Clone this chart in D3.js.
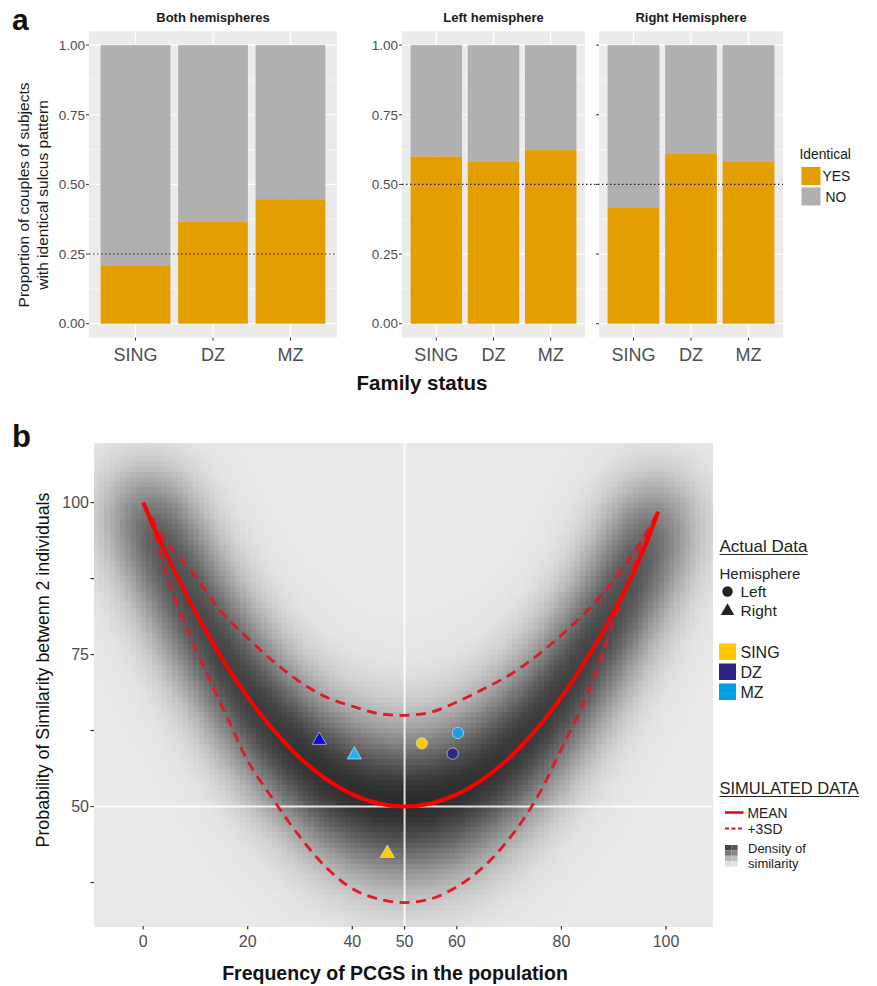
<!DOCTYPE html>
<html>
<head>
<meta charset="utf-8">
<script src="https://cdn.jsdelivr.net/npm/d3@7/dist/d3.min.js"></script>
<style>
  body { margin: 0; background: #fff; }
  svg { display: block; font-family: 'Liberation Sans', Arial, Helvetica, sans-serif; }
</style>
</head>
<body>
<svg id="chart" width="877" height="986"></svg>
<script>
// ---- panel a data ----
let statusCats = ['SING', 'DZ', 'MZ']
let bothYes = [0.21, 0.366, 0.447]
let leftYes = [0.60, 0.583, 0.623]
let rightYes = [0.418, 0.609, 0.583]
let chanceBoth = 0.25
let chanceSide = 0.5
let propTicks = [0, 0.25, 0.5, 0.75, 1]
let propMinor = [0.125, 0.375, 0.625, 0.875]

// ---- panel b data ----
let meanFreq = [0, 2.5, 5, 7.5, 10, 15, 20, 25, 30, 35, 40, 45, 50, 55, 60, 65, 70, 75, 80, 85, 90, 95, 98.5]
let meanSim = [100, 95.1, 90.5, 86.1, 82, 74.5, 68, 62.5, 58, 54.5, 52, 50.5, 50, 50.5, 52, 54.5, 58, 62.5, 68, 74.5, 82, 90.8, 98.5]
let upperFreq = [0, 2, 5, 9, 15, 20, 25, 30, 35, 40, 45, 50, 55, 60, 65, 70, 75, 80, 85, 90, 95, 98.5]
let upperSim = [100, 97, 93, 89, 82, 77.7, 73.8, 70.5, 68, 66.5, 65.3, 65, 65.5, 67.2, 69.3, 71.6, 74.6, 78.2, 82.3, 87.2, 93.3, 98.5]
let lowerFreq = [0, 2, 4.5, 8, 12.5, 16.6, 20, 25, 30, 35, 40, 45, 50, 55, 60, 65, 70, 75, 80, 85, 90, 95, 98.5]
let lowerSim = [100, 95.5, 88, 80, 71.3, 63.7, 57.5, 51, 45, 40, 36.5, 34.8, 34.2, 34.8, 36.8, 40, 44.7, 51, 59.5, 68.5, 80.5, 92, 98.5]

let pointFreq = [53.3, 60.2, 59.2, 33.7, 40.4, 46.7]
let pointSim = [60.4, 62.1, 58.7, 60.9, 58.5, 42.3]
let pointHemi = ['Left', 'Left', 'Left', 'Right', 'Right', 'Right']
let pointStatus = ['SING', 'MZ', 'DZ', 'DZ', 'MZ', 'SING']

let freqTicks = [0, 20, 40, 50, 60, 80, 100]
let simTicks = [50, 75, 100]
let simMinorTicks = [37.5, 62.5, 87.5]

let svg = d3.select('#chart')
let yesColor = '#E49E00'
let noColor = '#B0B0B1'
let tickGrey = '#4d4d4d'

// ================= panel a =================
let yA = d3.scaleLinear().domain([-0.05, 1.05]).range([337.6, 31.2])

let facets = [
  { title: 'Both hemispheres', x0: 89, x1: 337, yes: bothYes, labels: true },
  { title: 'Left hemisphere', x0: 402, x1: 585, yes: leftYes, labels: true },
  { title: 'Right Hemisphere', x0: 599, x1: 783, yes: rightYes, labels: false }
]

facets.forEach((f) => {
  let xA = d3.scaleBand().domain(statusCats).range([f.x0, f.x1]).paddingInner(0.1).paddingOuter(0.15)
  let g = svg.append('g')
  g.append('rect').attr('x', f.x0).attr('y', yA(1.05)).attr('width', f.x1 - f.x0)
    .attr('height', yA(-0.05) - yA(1.05)).attr('fill', '#ebebeb')
  g.selectAll('.minor').data(propMinor).enter().append('line')
    .attr('x1', f.x0).attr('x2', f.x1).attr('y1', d => yA(d)).attr('y2', d => yA(d))
    .attr('stroke', '#fff').attr('stroke-width', 0.6)
  g.selectAll('.major').data(propTicks).enter().append('line')
    .attr('x1', f.x0).attr('x2', f.x1).attr('y1', d => yA(d)).attr('y2', d => yA(d))
    .attr('stroke', '#fff').attr('stroke-width', 1.2)
  g.selectAll('.vgrid').data(statusCats).enter().append('line')
    .attr('x1', d => xA(d) + xA.bandwidth() / 2).attr('x2', d => xA(d) + xA.bandwidth() / 2)
    .attr('y1', yA(1.05)).attr('y2', yA(-0.05))
    .attr('stroke', '#fff').attr('stroke-width', 1.2)

  // stacked bars: YES at the bottom, NO on top
  g.selectAll('.no').data(statusCats).enter().append('rect')
    .attr('x', d => xA(d)).attr('width', xA.bandwidth())
    .attr('y', yA(1)).attr('height', (d, i) => yA(f.yes[i]) - yA(1))
    .attr('fill', noColor)
  g.selectAll('.yes').data(statusCats).enter().append('rect')
    .attr('x', d => xA(d)).attr('width', xA.bandwidth())
    .attr('y', (d, i) => yA(f.yes[i])).attr('height', (d, i) => yA(0) - yA(f.yes[i]))
    .attr('fill', yesColor)

  // y ticks
  g.selectAll('.ytick').data(propTicks).enter().append('line')
    .attr('x1', f.x0 - 3).attr('x2', f.x0).attr('y1', d => yA(d)).attr('y2', d => yA(d))
    .attr('stroke', '#333').attr('stroke-width', 1)
  if (f.labels) {
    g.selectAll('.ylab').data(propTicks).enter().append('text')
      .attr('x', f.x0 - 4).attr('y', d => yA(d) + 4.8)
      .attr('text-anchor', 'end').attr('font-size', 13.5).attr('fill', tickGrey)
      .text(d => d3.format('.2f')(d))
  }
  // x ticks
  g.selectAll('.xtick').data(statusCats).enter().append('line')
    .attr('x1', d => xA(d) + xA.bandwidth() / 2).attr('x2', d => xA(d) + xA.bandwidth() / 2)
    .attr('y1', yA(-0.05)).attr('y2', yA(-0.05) + 3)
    .attr('stroke', '#333').attr('stroke-width', 1)
  g.selectAll('.xlab').data(statusCats).enter().append('text')
    .attr('x', d => xA(d) + xA.bandwidth() / 2).attr('y', 361)
    .attr('text-anchor', 'middle').attr('font-size', 18).attr('fill', tickGrey)
    .text(d => d)
  g.append('text').attr('x', (f.x0 + f.x1) / 2).attr('y', 22)
    .attr('text-anchor', 'middle').attr('font-size', 13).attr('font-weight', 'bold')
    .attr('fill', '#1a1a1a').text(f.title)
})

// chance lines
svg.append('line').attr('x1', 89).attr('x2', 337).attr('y1', yA(chanceBoth)).attr('y2', yA(chanceBoth))
  .attr('stroke', '#222').attr('stroke-width', 1.1).attr('stroke-dasharray', '1.5,2.5')
svg.append('line').attr('x1', 402).attr('x2', 783).attr('y1', yA(chanceSide)).attr('y2', yA(chanceSide))
  .attr('stroke', '#222').attr('stroke-width', 1.1).attr('stroke-dasharray', '1.5,2.5')

// y title a
let yTitleA = svg.append('text').attr('transform', 'translate(0,195) rotate(-90)')
  .attr('text-anchor', 'middle').attr('font-size', 15.5).attr('fill', '#1a1a1a')
yTitleA.append('tspan').attr('x', 0).attr('y', 29).text('Proportion of couples of subjects')
yTitleA.append('tspan').attr('x', 0).attr('y', 47.5).text('with identical sulcus pattern')

svg.append('text').attr('x', 422).attr('y', 390).attr('text-anchor', 'middle')
  .attr('font-size', 20.5).attr('font-weight', 'bold').attr('fill', '#111').text('Family status')

// legend a
svg.append('text').attr('x', 799.5).attr('y', 159).attr('font-size', 13.8).attr('fill', '#1a1a1a').text('Identical')
let legA = [{ k: 'YES', c: yesColor, y: 167 }, { k: 'NO', c: noColor, y: 187.5 }]
legA.forEach((d) => {
  svg.append('rect').attr('x', 801.5).attr('y', d.y).attr('width', 19).attr('height', 18).attr('fill', d.c)
  svg.append('text').attr('x', d.k === 'YES' ? 822.5 : 825.5).attr('y', d.y + 14)
    .attr('font-size', 13.8).attr('fill', '#1a1a1a').text(d.k)
})

svg.append('text').attr('x', 12).attr('y', 30).attr('font-size', 30).attr('font-weight', 'bold').attr('fill', '#111').text('a')

// ================= panel b =================
let xB = d3.scaleLinear().domain([-9.4, 108.8]).range([94, 712])
let yB = d3.scaleLinear().domain([30.35, 109.8]).range([926, 443])

let meanAt = d3.scaleLinear().domain(meanFreq).range(meanSim).clamp(true)
let upperAt = d3.scaleLinear().domain(upperFreq).range(upperSim).clamp(true)
let lowerAt = d3.scaleLinear().domain(lowerFreq).range(lowerSim).clamp(true)

// density of similarity: smoothed from the mean / +-3SD envelope above
let bandX = 5
let bandY = 4.6
let sims = d3.range(0, 98.51, 0.5).map(s => {
  let sd = Math.max((upperAt(s) - lowerAt(s)) / 6, 0.4)
  return { s: s, c: meanAt(s), se: Math.sqrt(sd * sd + bandY * bandY) }
})
let cellW = 1.0
let cellH = 0.86
let cells = []
for (let gx = -9.4; gx < 108.8; gx += cellW) {
  for (let gy = 30.35; gy < 109.8; gy += cellH) {
    let cx = gx + cellW / 2
    let cy = gy + cellH / 2
    let v = 0
    sims.forEach(p => {
      let dx = (cx - p.s) / bandX
      if (Math.abs(dx) > 4) return
      let dy = (cy - p.c) / p.se
      v += Math.exp(-0.5 * dx * dx) * Math.exp(-0.5 * dy * dy) / p.se
    })
    cells.push({ x: gx, y: gy, v: v })
  }
}
let vMax = d3.max(cells, d => d.v)
let shade = d3.scaleLinear().domain([0, 1]).range(['#e9e9e9', '#2c2c2c']).interpolate(d3.interpolateRgb)

let gB = svg.append('g')
gB.append('g').attr('shape-rendering', 'crispEdges')
  .selectAll('rect').data(cells).enter().append('rect')
  .attr('x', d => xB(d.x))
  .attr('y', d => yB(Math.min(d.y + cellH, 109.8)))
  .attr('width', d => Math.min(xB(d.x + cellW), 712) - xB(d.x) + 0.6)
  .attr('height', d => yB(d.y) - yB(Math.min(d.y + cellH, 109.8)) + 0.6)
  .attr('fill', d => shade(Math.pow(d.v / vMax, 0.6)))

// white reference lines at 50
gB.append('line').attr('x1', xB(50)).attr('x2', xB(50)).attr('y1', 443).attr('y2', 926)
  .attr('stroke', '#fff').attr('stroke-width', 2).attr('stroke-opacity', 0.85)
gB.append('line').attr('x1', 94).attr('x2', 712).attr('y1', yB(50)).attr('y2', yB(50))
  .attr('stroke', '#fff').attr('stroke-width', 2).attr('stroke-opacity', 0.85)

let curveLine = d3.line().x(d => xB(d[0])).y(d => yB(d[1])).curve(d3.curveCatmullRom.alpha(0.5))
gB.append('path').attr('d', curveLine(d3.zip(upperFreq, upperSim)))
  .attr('fill', 'none').attr('stroke', '#dc1a28').attr('stroke-width', 2.8).attr('stroke-dasharray', '10,6.5')
gB.append('path').attr('d', curveLine(d3.zip(lowerFreq, lowerSim)))
  .attr('fill', 'none').attr('stroke', '#dc1a28').attr('stroke-width', 2.8).attr('stroke-dasharray', '10,6.5')
gB.append('path').attr('d', curveLine(d3.zip(meanFreq, meanSim)))
  .attr('fill', 'none').attr('stroke', '#ff0000').attr('stroke-width', 4)

// actual data points
let leftColors = { SING: '#FFCC00', DZ: '#2E2A84', MZ: '#1BA0E2' }
let rightColors = { SING: '#FFC800', DZ: '#0A0AD8', MZ: '#22B5F2' }
gB.selectAll('.pt').data(pointFreq).enter().append('path')
  .attr('transform', (d, i) => 'translate(' + xB(d) + ',' + yB(pointSim[i]) + ')')
  .attr('d', (d, i) => pointHemi[i] === 'Left'
    ? d3.symbol(d3.symbolCircle, 100)()
    : d3.symbol(d3.symbolTriangle, 88)())
  .attr('fill', (d, i) => pointHemi[i] === 'Left' ? leftColors[pointStatus[i]] : rightColors[pointStatus[i]])
  .attr('stroke', '#e8e8f0').attr('stroke-width', 0.6)

// axes b
gB.selectAll('.yt').data(simTicks.concat(simMinorTicks)).enter().append('line')
  .attr('x1', 90.5).attr('x2', 94).attr('y1', d => yB(d)).attr('y2', d => yB(d))
  .attr('stroke', '#333').attr('stroke-width', 1.2)
gB.selectAll('.yl').data(simTicks).enter().append('text')
  .attr('x', 89).attr('y', d => yB(d) + 5.5).attr('text-anchor', 'end')
  .attr('font-size', 16).attr('fill', tickGrey).text(d => d)
gB.selectAll('.xt').data(freqTicks).enter().append('line')
  .attr('x1', d => xB(d)).attr('x2', d => xB(d)).attr('y1', 926).attr('y2', 929.5)
  .attr('stroke', '#333').attr('stroke-width', 1.2)
gB.selectAll('.xl').data(freqTicks).enter().append('text')
  .attr('x', d => xB(d)).attr('y', 946.5).attr('text-anchor', 'middle')
  .attr('font-size', 16).attr('fill', tickGrey).text(d => d)

svg.append('text').attr('transform', 'translate(49,670) rotate(-90)').attr('text-anchor', 'middle')
  .attr('font-size', 17.8).attr('fill', '#111').text('Probability of Similarity betwenn 2 individuals')
svg.append('text').attr('x', 395).attr('y', 980).attr('text-anchor', 'middle')
  .attr('font-size', 19.5).attr('font-weight', 'bold').attr('fill', '#111').text('Frequency of PCGS in the population')

svg.append('text').attr('x', 12).attr('y', 447).attr('font-size', 31).attr('font-weight', 'bold').attr('fill', '#111').text('b')

// legend b
let legB = svg.append('g').attr('fill', '#222')
let underlined = (txt, x, y, size) => {
  let t = legB.append('text').attr('x', x).attr('y', y).attr('font-size', size).text(txt)
  let w = t.node().getComputedTextLength()
  legB.append('line').attr('x1', x).attr('x2', x + w).attr('y1', y + 2.5).attr('y2', y + 2.5)
    .attr('stroke', '#222').attr('stroke-width', 1)
}
underlined('Actual Data', 719.5, 552, 17)
legB.append('text').attr('x', 719.5).attr('y', 579).attr('font-size', 15).text('Hemisphere')
legB.append('path').attr('transform', 'translate(727.5,591.5)').attr('d', d3.symbol(d3.symbolCircle, 85)())
legB.append('text').attr('x', 740.5).attr('y', 597).attr('font-size', 15.5).text('Left')
legB.append('path').attr('transform', 'translate(727.5,611)').attr('d', d3.symbol(d3.symbolTriangle, 80)())
legB.append('text').attr('x', 740.5).attr('y', 616).attr('font-size', 15.5).text('Right')

let legendStatusColors = ['#FFC800', '#2E2382', '#009FE3']
statusCats.forEach((c, i) => {
  legB.append('rect').attr('x', 719).attr('y', 643.5 + i * 20).attr('width', 17).attr('height', 16.5)
    .attr('fill', legendStatusColors[i])
  legB.append('text').attr('x', 740.5).attr('y', 657.5 + i * 20).attr('font-size', 16).text(c)
})

underlined('SIMULATED DATA', 719.5, 794, 16.5)
legB.append('line').attr('x1', 725).attr('x2', 743.5).attr('y1', 812.5).attr('y2', 812.5)
  .attr('stroke', '#d7101c').attr('stroke-width', 2.6)
legB.append('text').attr('x', 747.5).attr('y', 817.5).attr('font-size', 13.8).text('MEAN')
legB.append('line').attr('x1', 725).attr('x2', 743.5).attr('y1', 828.5).attr('y2', 828.5)
  .attr('stroke', '#d7101c').attr('stroke-width', 2.2).attr('stroke-dasharray', '4,2.5')
legB.append('text').attr('x', 747.5).attr('y', 833.5).attr('font-size', 13.8).text('+3SD')
let iconShades = [['#444', '#555'], ['#777', '#888'], ['#b5b5b5', '#c0c0c0'], ['#dcdcdc', '#e2e2e2']]
iconShades.forEach((row, r) => row.forEach((c, k) => {
  legB.append('rect').attr('x', 725 + k * 6.3).attr('y', 845 + r * 5.4).attr('width', 6.3).attr('height', 5.4).attr('fill', c)
}))
legB.append('text').attr('x', 748).attr('y', 853).attr('font-size', 13).text('Density of')
legB.append('text').attr('x', 748).attr('y', 867.5).attr('font-size', 13).text('similarity')
</script>
</body>
</html>
